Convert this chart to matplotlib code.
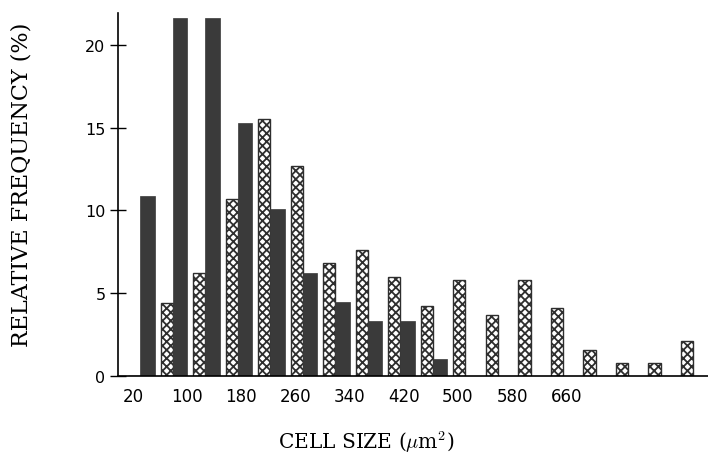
import numpy as np
import matplotlib.pyplot as plt

# cell size bins (um^2) and relative frequencies (%)
binStarts = [20, 60, 100, 140, 180, 220, 260, 300, 340, 380, 420, 460, 500, 540, 580, 620, 660, 700]
hatchedFreq = [0, 4.4, 6.2, 10.7, 15.5, 12.7, 6.8, 7.6, 6.0, 4.2, 5.8, 3.7, 5.8, 4.1, 1.6, 0.8, 0.8, 2.1]
solidFreq = [10.9, 21.6, 21.6, 15.3, 10.1, 6.2, 4.5, 3.3, 3.3, 1.0, 0, 0, 0, 0, 0, 0, 0, 0]
tickLabels = ["20", "100", "180", "260", "340", "420", "500", "580", "660"]

plt.rcParams["hatch.linewidth"] = 1.3
plt.rcParams["mathtext.fontset"] = "cm"

fig = plt.figure(figsize=(7.08, 4.56), dpi=100)
ax = fig.add_axes([118 / 708, 1 - 377 / 456, 590 / 708, 363 / 456])

idx = np.arange(len(binStarts))
ax.bar(idx - 0.19, hatchedFreq, width=0.38, color="white", edgecolor="#2e2e2e",
       hatch="xxxx", linewidth=1.0)
ax.bar(idx + 0.22, solidFreq, width=0.44, color="#3a3a3a", edgecolor="#3a3a3a", linewidth=0.5)

ax.set_xlim(-0.69, 17.46)
ax.set_ylim(0, 21.93)

# the printed labels sit slightly off the bar grid
ax.set_xticks(np.linspace(-0.23, 13.1, len(tickLabels)))
ax.set_xticklabels(tickLabels, fontsize=12, family="DejaVu Sans")
ax.tick_params(axis="x", length=0, pad=8)
ax.set_yticks([0, 5, 10, 15, 20])
ax.tick_params(axis="y", direction="inout", length=11, width=1, labelsize=11.5)

for side in ["top", "right"]:
    ax.spines[side].set_visible(False)
ax.spines["left"].set_linewidth(1.2)
ax.spines["bottom"].set_linewidth(1.2)

ax.set_xlabel(r"CELL SIZE ($\mu$m$^2$)", family="DejaVu Serif", fontsize=14.5)
ax.set_ylabel("RELATIVE FREQUENCY (%)", family="DejaVu Serif", fontsize=16)
ax.xaxis.set_label_coords(0.42, -0.145)
ax.yaxis.set_label_coords(-0.145, 0.53)

fig.savefig("out.png", dpi=100)
